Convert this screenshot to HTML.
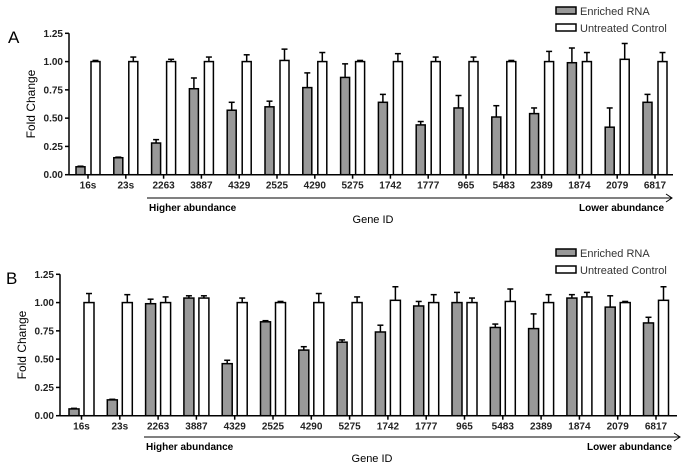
<!DOCTYPE html>
<html><head><meta charset="utf-8"><style>
body{margin:0;background:#fff}
svg{display:block;font-family:"Liberation Sans",Arial,sans-serif}
</style></head><body>
<svg id="c" width="683" height="472" viewBox="0 0 683 472"></svg>
<script>
const genes=["16s","23s","2263","3887","4329","2525","4290","5275","1742","1777","965","5483","2389","1874","2079","6817"];
const yTicks=["0.00","0.25","0.50","0.75","1.00","1.25"];
const aEnriched=[0.07,0.15,0.28,0.76,0.57,0.60,0.77,0.86,0.64,0.44,0.59,0.51,0.54,0.99,0.42,0.64];
const aEnrichedErr=[0.075,0.155,0.31,0.855,0.64,0.65,0.90,0.98,0.71,0.47,0.70,0.61,0.59,1.12,0.59,0.71];
const aControl=[1.0,1.0,1.0,1.0,1.0,1.01,1.0,1.0,1.0,1.0,1.0,1.0,1.0,1.0,1.02,1.0];
const aControlErr=[1.01,1.04,1.02,1.04,1.06,1.11,1.08,1.01,1.07,1.04,1.04,1.01,1.09,1.08,1.16,1.08];
const bEnriched=[0.06,0.14,0.99,1.04,0.46,0.83,0.58,0.65,0.74,0.97,1.0,0.78,0.77,1.04,0.96,0.82];
const bEnrichedErr=[0.065,0.145,1.03,1.06,0.49,0.84,0.61,0.67,0.80,1.01,1.09,0.81,0.90,1.07,1.06,0.87];
const bControl=[1.0,1.0,1.0,1.04,1.0,1.0,1.0,1.0,1.02,1.0,1.0,1.01,1.0,1.05,1.0,1.02];
const bControlErr=[1.08,1.07,1.05,1.06,1.04,1.01,1.08,1.05,1.14,1.07,1.04,1.12,1.07,1.09,1.01,1.14];

const svg=document.getElementById('c');
const NS="http://www.w3.org/2000/svg";
function mk(tag,attrs,parent,text){const e=document.createElementNS(NS,tag);for(const k in attrs)e.setAttribute(k,attrs[k]);if(text!==undefined)e.textContent=text;(parent||svg).appendChild(e);return e;}

function panel(cfg){
  const g=mk('g',{});
  
  
  const y=v=>cfg.y0-(cfg.y0-cfg.y125)*v/1.25;
  const xc=i=>cfg.x1+i*cfg.sp;
  const lab=mk('text',{x:cfg.labX,y:cfg.labY,'font-size':17},g,cfg.id);
  
  
  // y axis
  const ya=mk('line',{x1:cfg.ax,x2:cfg.ax,y1:y(1.25),y2:y(0),stroke:'#000','stroke-width':1.5},g);
  
  
  yTicks.forEach(t=>{
    const v=parseFloat(t);
    mk('line',{x1:cfg.ax-4,x2:cfg.ax,y1:y(v),y2:y(v),stroke:'#000','stroke-width':1.5},g);
    const tl=mk('text',{x:cfg.ax-6,y:y(v)+3.5,'font-size':10,'font-weight':'bold','text-anchor':'end',fill:'#222'},g,t);
    
    
  });
  const yt=mk('text',{transform:`translate(${cfg.ax-34},${(y(0)+y(1.25))/2}) rotate(-90)`,'font-size':12,'text-anchor':'middle'},g,'Fold Change');
  
  
  // x axis
  const xa=mk('line',{x1:cfg.ax,x2:cfg.axEnd,y1:y(0),y2:y(0),stroke:'#000','stroke-width':1.5},g);
  
  
  genes.forEach((gn,i)=>{
    const c=xc(i);
    mk('line',{x1:c,x2:c,y1:y(0),y2:y(0)+4,stroke:'#000','stroke-width':1.5},g);
    const tl=mk('text',{x:c,y:y(0)+14,'font-size':10,'font-weight':'bold','text-anchor':'middle',fill:'#222'},g,gn);
    
    
    const bars=[[cfg.en[i],cfg.enE[i],'#999',c-cfg.gap/2-cfg.bw,'bar-enriched'],[cfg.co[i],cfg.coE[i],'#fff',c+cfg.gap/2,'bar-control']];
    bars.forEach(([v,e,f,x0,nm])=>{
      const mid=x0+cfg.bw/2;
      mk('line',{x1:mid,x2:mid,y1:y(v),y2:y(e),stroke:'#000','stroke-width':1.5},g);
      mk('line',{x1:mid-3,x2:mid+3,y1:y(e),y2:y(e),stroke:'#000','stroke-width':1.5},g);
      const r=mk('rect',{x:x0,y:y(v),width:cfg.bw,height:y(0)-y(v),fill:f,stroke:'#000','stroke-width':1.5},g);
      
      
    });
  });
  // arrow
  const ar=mk('g',{},g);
  
  
  mk('line',{x1:cfg.arX,x2:cfg.arEnd,y1:cfg.arY,y2:cfg.arY,stroke:'#000','stroke-width':1},ar);
  mk('path',{d:`M${cfg.arEnd-6},${cfg.arY-4} L${cfg.arEnd},${cfg.arY} L${cfg.arEnd-6},${cfg.arY+4}`,fill:'none',stroke:'#000','stroke-width':1},ar);
  const h=mk('text',{x:cfg.arX+2,y:cfg.arY+13,'font-size':10,'font-weight':'bold'},g,'Higher abundance');
  
  
  const l=mk('text',{x:cfg.arEnd-8,y:cfg.arY+13,'font-size':10,'font-weight':'bold','text-anchor':'end'},g,'Lower abundance');
  
  
  const gid=mk('text',{x:cfg.gidX,y:cfg.arY+25,'font-size':11,'text-anchor':'middle'},g,'Gene ID');
  
  
  // legend
  [['#999','Enriched RNA'],['#fff','Untreated Control']].forEach(([f,t],k)=>{
    const lg=mk('g',{},g);
    
    
    const ly=cfg.legY+k*cfg.legDy;
    mk('rect',{x:cfg.legX,y:ly-4,width:20,height:7,fill:f,stroke:'#000','stroke-width':1.5},lg);
    mk('text',{x:cfg.legX+24,y:ly+4,'font-size':11,fill:'#333'},lg,t);
  });
}
panel({id:'A',x1:88,sp:37.8,bw:9,gap:6,ax:69,axEnd:673,y0:174.7,y125:33.3,labX:8,labY:43,
  en:aEnriched,enE:aEnrichedErr,co:aControl,coE:aControlErr,arX:147,arEnd:672,arY:198,gidX:373,legX:556,legY:11,legDy:17});
panel({id:'B',x1:81.5,sp:38.3,bw:10,gap:5,ax:60,axEnd:677,y0:415.7,y125:274.3,labX:6,labY:284,
  en:bEnriched,enE:bEnrichedErr,co:bControl,coE:bControlErr,arX:144,arEnd:680,arY:437,gidX:372,legX:556,legY:253,legDy:17});
</script>
</body></html>
